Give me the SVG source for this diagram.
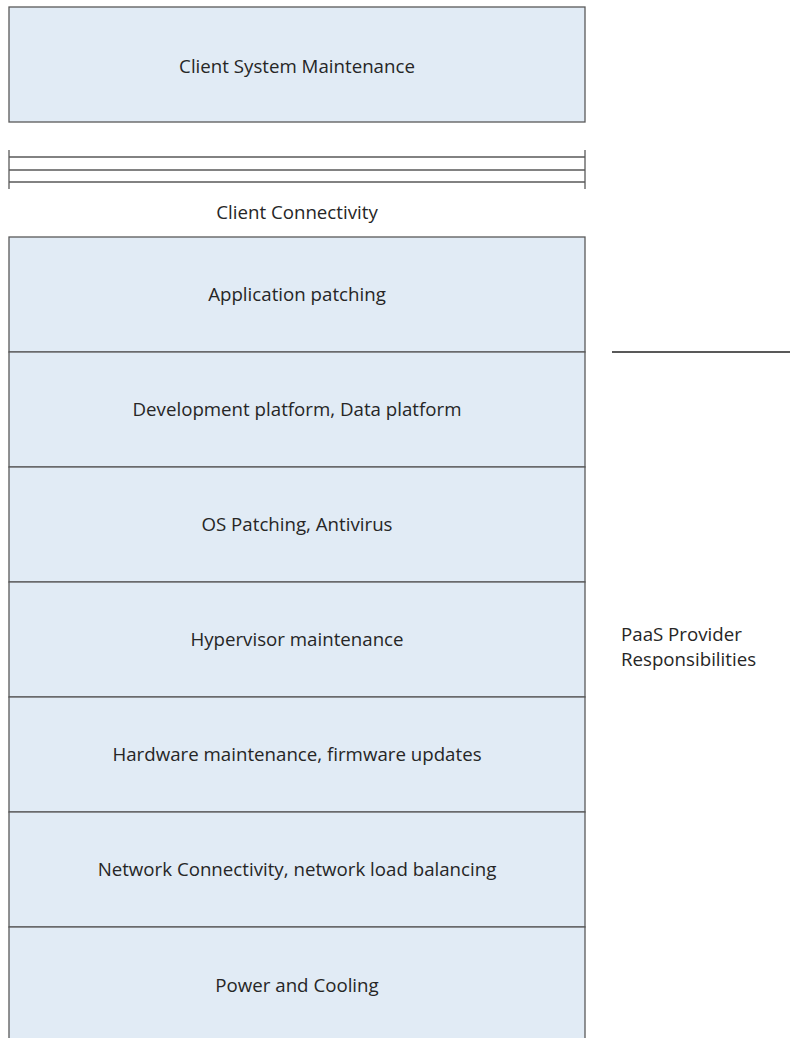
<svg xmlns="http://www.w3.org/2000/svg" width="790" height="1038" viewBox="0 0 790 1038">
<style>
.box{fill:#e1ebf5;stroke:#595959;stroke-width:1.3}
.ln{stroke:#595959;stroke-width:1.3;fill:none}
.t{font-family:"Open Sans","Liberation Sans",sans-serif;font-size:18.7px;fill:#262626;text-anchor:middle}
.tl{font-family:"Open Sans","Liberation Sans",sans-serif;font-size:18.7px;fill:#262626}
</style>
<rect width="790" height="1038" fill="#ffffff"/>
<g id="client-system">
<rect class="box" x="9" y="7" width="576" height="115"/>
<text class="t" x="297" y="73">Client System Maintenance</text>
</g>
<g id="connectors">
<line class="ln" x1="9" y1="157" x2="585" y2="157"/>
<line class="ln" x1="9" y1="170" x2="585" y2="170"/>
<line class="ln" x1="9" y1="182" x2="585" y2="182"/>
<line class="ln" x1="9" y1="150" x2="9" y2="189"/>
<line class="ln" x1="585" y1="150" x2="585" y2="189"/>
<line class="ln" x1="612" y1="352" x2="790" y2="352" style="stroke-width:2"/>
</g>
<g id="client-connectivity">
<text class="t" x="297" y="219">Client Connectivity</text>
</g>
<g id="app-patching">
<rect class="box" x="9" y="237" width="576" height="115"/>
<text class="t" x="297" y="301">Application patching</text>
</g>
<g id="dev-platform">
<rect class="box" x="9" y="352" width="576" height="115"/>
<text class="t" x="297" y="416">Development platform, Data platform</text>
</g>
<g id="os-patching">
<rect class="box" x="9" y="467" width="576" height="115"/>
<text class="t" x="297" y="531">OS Patching, Antivirus</text>
</g>
<g id="hypervisor">
<rect class="box" x="9" y="582" width="576" height="115"/>
<text class="t" x="297" y="646">Hypervisor maintenance</text>
</g>
<g id="hardware">
<rect class="box" x="9" y="697" width="576" height="115"/>
<text class="t" x="297" y="761">Hardware maintenance, firmware updates</text>
</g>
<g id="network">
<rect class="box" x="9" y="812" width="576" height="115"/>
<text class="t" x="297" y="876">Network Connectivity, network load balancing</text>
</g>
<g id="power">
<rect class="box" x="9" y="927" width="576" height="125"/>
<text class="t" x="297" y="992">Power and Cooling</text>
</g>
<g id="paas-label">
<text class="tl" x="621" y="641">PaaS Provider</text>
<text class="tl" x="621" y="666">Responsibilities</text>
</g>
</svg>
